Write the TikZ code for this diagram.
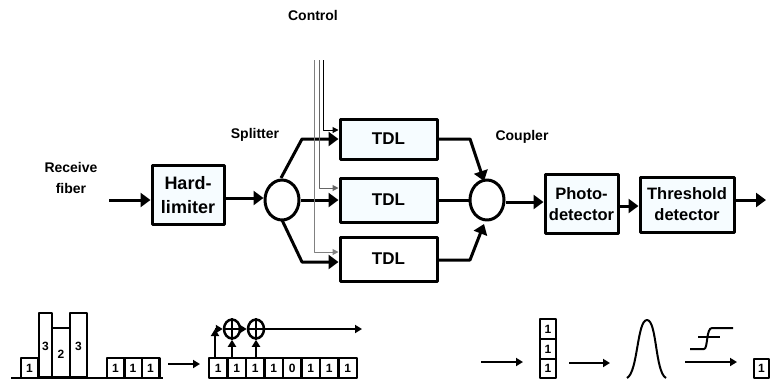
\documentclass[tikz,border=0pt]{standalone}
\usepackage{fontspec}
\setmainfont{Liberation Sans}
\usetikzlibrary{arrows.meta,shapes.geometric}
\definecolor{boxtint}{HTML}{F6FCFF}

\begin{document}
\begin{tikzpicture}[
        x = 1pt, y = -1pt,
        line join=round,
        >={Triangle[length=10pt,width=14pt]},
        label/.style = {font=\fontsize{14}{21}\selectfont\bfseries, align=center, inner sep=0pt},
        block/.style = {draw, line width=3pt, fill=boxtint, font=\fontsize{16.5}{21}\selectfont\bfseries, align=center, inner sep=0pt},
        tdl/.style = {block, minimum width=97pt, font=\fontsize{17}{20}\selectfont\bfseries},
        junction/.style = {draw, ellipse, line width=3pt, fill=white, minimum width=34pt, minimum height=40pt, inner sep=0pt},
        wire/.style = {line width=3pt},
        ctrl/.style = {line width=1pt, -{Triangle[length=6pt,width=6pt]}},
        cell/.style = {draw, line width=2.5pt, fill=white, font=\fontsize{12}{12}\selectfont\bfseries, inner sep=0pt},
        digit/.style = {font=\fontsize{12}{12}\selectfont\bfseries, inner sep=0pt},
        bit/.style = {cell, minimum width=17.5pt, minimum height=20pt},
        xorgate/.style = {draw, ellipse, line width=2.5pt, minimum width=16pt, minimum height=19pt, inner sep=0pt},
        flow/.style = {line width=2pt, ->, >={Triangle[length=7pt,width=8pt]}}
    ]

    \useasboundingbox (0,0) rectangle (770,381);

    % labels
    \node[label] (control) at (313,15) {Control};
    \node[label] (receive) at (71,178) {Receive\\fiber};
    \node[label] (splitter) at (255,135) {Splitter};
    \node[label] (coupler) at (522,137) {Coupler};

    % top row
    \node[block, minimum width=72pt, minimum height=59pt, font=\fontsize{18}{24}\selectfont\bfseries] (hard) at (188,195) {Hard-\\limiter};
    \node[junction] (split) at (282,200) {};
    \node[tdl, minimum height=40pt] (tdl1) at (388.5,139) {TDL};
    \node[tdl, minimum height=44pt] (tdl2) at (388.5,200) {TDL};
    \node[tdl, minimum height=44pt, fill=white] (tdl3) at (388.5,259) {TDL};
    \node[junction] (coup) at (487,200) {};
    \node[block, minimum width=73pt, minimum height=59pt] (photo) at (581.5,204) {Photo-\\detector};
    \node[block, minimum width=94pt, minimum height=55pt] (thresh) at (687,204.5) {Threshold\\detector};

    \coordinate (fiber) at (109,200);
    \coordinate (out) at (766,200);
    \coordinate (up1) at (302,139);
    \coordinate (up2) at (302,262);
    \coordinate (down1) at (470,139);
    \coordinate (down3) at (470,260);

    \draw[wire,->] (fiber) -- (hard.west |- fiber);
    \draw[wire,->] (hard.east |- 0,198) -- (split.west |- 0,198);
    \draw[wire,->] (281,178) -- (up1) -- (tdl1.west |- up1);
    \draw[wire,->] (split.east) -- (tdl2.west);
    \draw[wire,->] (282,220) -- (up2) -- (tdl3.west |- up2);
    \draw[wire,->] (tdl1.east) -- (down1) -- (484,181);
    \draw[wire] (tdl2.east) -- (coup.west);
    \draw[wire,->] (tdl3.east |- down3) -- (down3) -- (484,224);
    \draw[wire,->] (coup.east |- 0,202) -- (photo.west |- 0,202);
    \draw[wire,->] (photo.east |- 0,206) -- (thresh.west |- 0,206);
    \draw[wire,->] (thresh.east |- out) -- (out);

    % control lines
    \draw[ctrl, gray] (314,60) |- (tdl3.west |- 0,252);
    \draw[ctrl, black!60] (319,60) |- (tdl2.west |- 0,188);
    \draw[ctrl, black] (323,60) |- (tdl1.west |- 0,130);

    % received pulses
    \node[cell, minimum width=17pt, minimum height=20pt] (p1) at (29.5,368) {1};
    \node[cell, minimum width=13pt, minimum height=64pt, anchor=south] (p2) at (45.5,378) {};
    \node[cell, minimum width=18pt, minimum height=49pt, anchor=south] (p3) at (61,378) {};
    \node[cell, minimum width=17pt, minimum height=64pt, anchor=south] (p4) at (78.5,378) {};
    \node[digit] (t2) at (45.5,346) {3};
    \node[digit] (t3) at (61,354) {2};
    \node[digit] (t4) at (78.5,346) {3};
    \node[bit] (q1) at (115.5,368) {1};
    \node[bit] (q2) at (133,368) {1};
    \node[bit] (q3) at (150.5,368) {1};
    \coordinate (base1) at (11,378);
    \coordinate (base2) at (163,378);
    \draw[line width=2.5pt] (base1) -- (base2);

    % shift register
    \node[bit, minimum width=18.5pt] (r1) at (218.2,368) {1};
    \node[bit, minimum width=18.5pt] (r2) at (236.7,368) {1};
    \node[bit, minimum width=18.5pt] (r3) at (255.2,368) {1};
    \node[bit, minimum width=18.5pt] (r4) at (273.7,368) {1};
    \node[bit, minimum width=18.5pt] (r5) at (292.2,368) {0};
    \node[bit, minimum width=18.5pt] (r6) at (310.7,368) {1};
    \node[bit, minimum width=18.5pt] (r7) at (329.2,368) {1};
    \node[bit, minimum width=18.5pt] (r8) at (347.7,368) {1};
    \node[xorgate] (xor1) at (232,329) {};
    \node[xorgate] (xor2) at (256,329) {};
    \draw[line width=2pt] (xor1.north) -- (xor1.south);
    \draw[line width=2pt] (xor1.west) -- (xor1.east);
    \draw[line width=2pt] (xor2.north) -- (xor2.south);
    \draw[line width=2pt] (xor2.west) -- (xor2.east);

    \coordinate (tap) at (215,329);
    \coordinate (far) at (362,329);
    \coordinate (arrow1) at (168,364);
    \coordinate (arrow2) at (200,364);
    \draw[flow] (tap |- r1.north) -- (tap);
    \draw[flow] (tap) -- (xor1.west);
    \draw[flow] (xor1.east) -- (xor2.west);
    \draw[flow] (xor2.east) -- (far);
    \draw[flow] (xor1 |- r2.north) -- (xor1.south);
    \draw[flow] (xor2 |- r3.north) -- (xor2.south);
    \draw[flow] (arrow1) -- (arrow2);

    % despread stack, integrator and decision
    \coordinate (arrow3) at (481,362);
    \coordinate (arrow4) at (523,362);
    \coordinate (arrow5) at (569,363);
    \coordinate (arrow6) at (610,363);
    \coordinate (arrow7) at (685,362);
    \coordinate (arrow8) at (737,362);
    \draw[flow] (arrow3) -- (arrow4);
    \draw[flow] (arrow5) -- (arrow6);
    \draw[flow] (arrow7) -- (arrow8);

    \node[cell, minimum width=16pt, minimum height=20pt] (s1) at (548,329) {1};
    \node[cell, minimum width=16pt, minimum height=20pt] (s2) at (548,349) {1};
    \node[cell, minimum width=16pt, minimum height=19pt] (s3) at (548,368.5) {1};
    \node[cell, minimum width=15pt, minimum height=19pt] (s4) at (761.5,368.5) {1};

    \draw[line width=2pt] (627,378) .. controls (638,372) and (637,320) .. (647,320)
        .. controls (657,320) and (655,372) .. (666,378);
    \draw[line width=2pt] (690,349) -- (704,349) .. controls (708,349) and (706,328) .. (712,328) -- (733,328);
    \draw[line width=2pt] (698,337) -- (720,337);
\end{tikzpicture}
\end{document}
